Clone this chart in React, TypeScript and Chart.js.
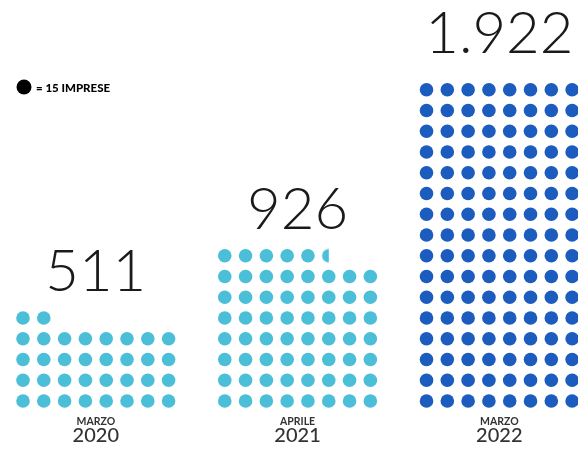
import { useEffect, useRef } from "react";
import { Chart, registerables } from "chart.js";

Chart.register(...registerables);

// ---- data ----
const periods = ["MARZO", "APRILE", "MARZO"];
const years = ["2020", "2021", "2022"];
const companies = [511, 926, 1922];
const valueLabels = ["511", "926", "1.922"];
const UNIT = 15; // one dot = 15 imprese
const legendText = "= 15 IMPRESE";

// ---- layout / style ----
const COLS = 8;
const GROUP_STEP = 9.7;
const dotColors = ["#4cbfd8", "#4cbfd8", "#1c5cbf"];
const numberGap = [27, 27, 37];

function makeHalfDot(color: string, r: number) {
  const c = document.createElement("canvas");
  const s = Math.ceil(r * 2) + 2;
  c.width = s;
  c.height = s;
  const ctx = c.getContext("2d")!;
  ctx.fillStyle = color;
  ctx.beginPath();
  ctx.arc(s / 2, s / 2, r, Math.PI / 2, Math.PI * 1.5);
  ctx.closePath();
  ctx.fill();
  return c;
}

function buildDots(g: number) {
  const n = companies[g] / UNIT;
  const full = Math.floor(n);
  const frac = n - full;
  const total = frac >= 0.25 ? full + 1 : full;
  const pts: { x: number; y: number }[] = [];
  const styles: any[] = [];
  for (let i = 0; i < total; i++) {
    const row = Math.floor(i / COLS);
    const col = i % COLS;
    pts.push({ x: g * GROUP_STEP + col, y: row });
    styles.push(i >= full ? makeHalfDot(dotColors[g], 6.8) : "circle");
  }
  return { pts, styles, rows: Math.ceil(total / COLS) };
}

export default function App() {
  const ref = useRef<HTMLCanvasElement | null>(null);
  useEffect(() => {
    document.body.style.margin = "0";
    document.body.style.background = "#ffffff";
    const groups = companies.map((_, g) => buildDots(g));
    const textPlugin = {
      id: "texts",
      afterDatasetsDraw(chart: any) {
        const { ctx, scales } = chart;
        const xs = scales.x;
        const ys = scales.y;
        ctx.save();
        groups.forEach((grp, g) => {
          const cx = xs.getPixelForValue(g * GROUP_STEP + (COLS - 1) / 2);
          const topY = ys.getPixelForValue(grp.rows - 1);
          const botY = ys.getPixelForValue(0);
          ctx.textAlign = "center";
          ctx.textBaseline = "alphabetic";
          ctx.fillStyle = "#1a1a1a";
          ctx.font = "300 58px Lato";
          ctx.fillText(valueLabels[g], cx, topY - numberGap[g]);
          ctx.fillStyle = "#333333";
          ctx.font = "700 10.5px Lato";
          ctx.fillText(periods[g], cx, botY + 24);
          ctx.font = "500 20px Lato";
          ctx.fillText(years[g], cx, botY + 41);
        });
        // legend
        ctx.fillStyle = "#000";
        ctx.beginPath();
        ctx.arc(24, 87, 7.5, 0, Math.PI * 2);
        ctx.fill();
        ctx.textAlign = "left";
        ctx.font = "900 11.5px Lato";
        ctx.fillText(legendText, 36, 92);
        ctx.restore();
      },
    };
    const chart = new Chart(ref.current!, {
      type: "scatter",
      data: {
        datasets: groups.map((grp, g) => ({
          label: years[g],
          data: grp.pts,
          backgroundColor: dotColors[g],
          borderWidth: 0,
          pointRadius: 6.8,
          pointHoverRadius: 6.8,
          pointStyle: grp.styles,
        })),
      },
      options: {
        animation: false,
        responsive: true,
        maintainAspectRatio: false,
        layout: { padding: 0, autoPadding: false },
        plugins: { legend: { display: false }, tooltip: { enabled: false } },
        scales: {
          x: { type: "linear", display: false, min: -23 / 20.8, max: (578 - 23) / 20.8 },
          y: { type: "linear", display: false, min: -49 / 20.75, max: 401 / 20.75 },
        },
      },
      plugins: [textPlugin],
    });
    return () => chart.destroy();
  }, []);
  return (
    <div style={{ width: 578, height: 450, position: "relative", background: "#fff" }}>
      <canvas ref={ref} />
    </div>
  );
}
